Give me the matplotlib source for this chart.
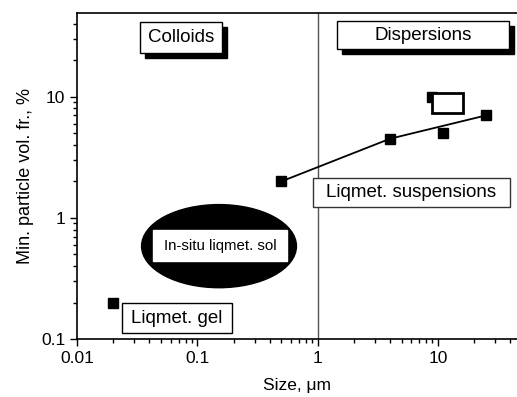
import matplotlib.pyplot as plt
from matplotlib.patches import Ellipse, Rectangle
from matplotlib.transforms import offset_copy

plt.rcParams["font.family"] = ["Liberation Sans", "DejaVu Sans"]

# data points
size_um = [0.02, 0.5, 4, 11, 25, 9]
vol_frac = [0.2, 2, 4.5, 5, 7, 10]
# trend line through the suspension points
line_size = [0.5, 4, 25]
line_frac = [2, 4.5, 7]

x_ticks = [0.01, 0.1, 1, 10]
x_tick_labels = ["0.01", "0.1", "1", "10"]
y_ticks = [0.1, 1, 10]
y_tick_labels = ["0.1", "1", "10"]


def label_box(ax, x0, y0, x1, y1, text, size=13.5, shadow=False, edge="black", lw=1.0):
    if shadow:
        sh_tr = offset_copy(ax.transAxes, fig=ax.figure, x=5, y=-5, units="dots")
        ax.add_patch(Rectangle((x0, y0), x1 - x0, y1 - y0, transform=sh_tr,
                               facecolor="black", edgecolor="black", zorder=5, clip_on=False))
    ax.add_patch(Rectangle((x0, y0), x1 - x0, y1 - y0, transform=ax.transAxes,
                           facecolor="white", edgecolor=edge, linewidth=lw, zorder=6, clip_on=False))
    ax.text((x0 + x1) / 2, (y0 + y1) / 2, text, transform=ax.transAxes, ha="center",
            va="center", fontsize=size, zorder=7)


fig = plt.figure(figsize=(5.17, 3.97), dpi=100)
ax = fig.add_axes([0.149, 0.146, 0.851, 0.821])
ax.set_xscale("log")
ax.set_yscale("log")
ax.set_xlim(0.01, 45.5)
ax.set_ylim(0.1, 49)

ax.axvline(1, color="#555555", linewidth=1.0, zorder=1)
ax.plot(line_size, line_frac, color="black", linewidth=1.3, zorder=3)
ax.plot(size_um, vol_frac, linestyle="none", marker="s", markersize=6.5, color="black", zorder=4)

# ellipse for the in-situ sol region
ax.add_patch(Ellipse((0.3227, 0.285), 0.352, 0.255, transform=ax.transAxes,
                     facecolor="black", edgecolor="black", zorder=3))
label_box(ax, 0.173, 0.239, 0.477, 0.334, "In-situ liqmet. sol", size=10.8, edge="white")

label_box(ax, 0.143, 0.877, 0.330, 0.972, "Colloids", shadow=True)
label_box(ax, 0.591, 0.890, 0.982, 0.975, "Dispersions", shadow=True)
label_box(ax, 0.536, 0.405, 0.984, 0.494, "Liqmet. suspensions", edge="#333333")
label_box(ax, 0.102, 0.018, 0.352, 0.110, "Liqmet. gel")
# small empty box near the top-right point
ax.add_patch(Rectangle((0.807, 0.693), 0.070, 0.062, transform=ax.transAxes,
                       facecolor="white", edgecolor="black", linewidth=2.0, zorder=6))

ax.set_xticks(x_ticks)
ax.set_xticklabels(x_tick_labels)
ax.set_yticks(y_ticks)
ax.set_yticklabels(y_tick_labels)
ax.tick_params(which="major", direction="out", length=5, width=1, labelsize=12.5)
ax.tick_params(which="minor", direction="out", length=3, width=1)
ax.tick_params(axis="y", which="minor", labelleft=False)
ax.tick_params(axis="x", which="minor", labelbottom=False)

ax.spines["right"].set_visible(False)
for s in ["left", "bottom", "top"]:
    ax.spines[s].set_linewidth(1.2)

ax.set_xlabel("Size, μm", fontsize=12.5, labelpad=9)
ax.set_ylabel("Min. particle vol. fr., %", fontsize=13, labelpad=5)

fig.savefig("out.png", dpi=100)
